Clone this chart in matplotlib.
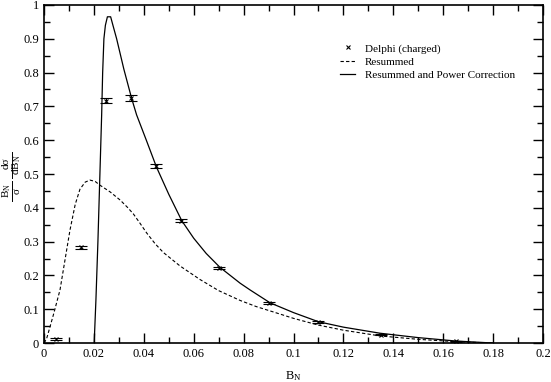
import numpy as np
import matplotlib
matplotlib.use("Agg")
import matplotlib.pyplot as plt
from matplotlib.lines import Line2D
from matplotlib.ticker import MultipleLocator

plt.rcParams['font.family'] = ['Liberation Serif', 'DejaVu Serif']
plt.rcParams['mathtext.fontset'] = 'custom'
plt.rcParams['mathtext.rm'] = 'Liberation Serif'
plt.rcParams['mathtext.it'] = 'Liberation Serif:italic'

# Delphi (charged) data
data_x = [0.005, 0.015, 0.025, 0.035, 0.045, 0.055, 0.070, 0.090, 0.110, 0.135, 0.165]
data_y = [0.012, 0.283, 0.717, 0.725, 0.525, 0.362, 0.223, 0.118, 0.062, 0.025, 0.005]
data_err = [0.003, 0.004, 0.008, 0.008, 0.006, 0.005, 0.003, 0.003, 0.002, 0.002, 0.002]

# Resummed (dashed)
res_x = [0.0, 0.001, 0.0024, 0.004, 0.0064, 0.0085, 0.0104, 0.0125, 0.0144, 0.0165, 0.0184,
         0.0205, 0.0224, 0.0265, 0.0305, 0.0335, 0.0358, 0.0385, 0.0411, 0.0445, 0.0478,
         0.0545, 0.0625, 0.07, 0.0786, 0.085, 0.0919, 0.1, 0.11, 0.12, 0.1347, 0.15,
         0.165, 0.18]
res_y = [0.0, 0.012, 0.048, 0.09, 0.157, 0.25, 0.334, 0.41, 0.455, 0.476, 0.482,
         0.478, 0.467, 0.447, 0.423, 0.401, 0.382, 0.354, 0.326, 0.294, 0.268,
         0.228, 0.188, 0.155, 0.126, 0.108, 0.092, 0.073, 0.053, 0.038, 0.021, 0.011,
         0.004, 0.0]

# Resummed and power correction (solid)
pc_x = [0.0201, 0.0208, 0.0216, 0.0224, 0.0231, 0.0235, 0.024, 0.0246, 0.0254, 0.0267,
        0.0278, 0.0291, 0.032, 0.0351, 0.0371, 0.041, 0.0451, 0.05, 0.0552, 0.06, 0.065,
        0.0705, 0.0786, 0.0826, 0.0906, 0.1, 0.11, 0.12, 0.1347, 0.15, 0.165, 0.18]
pc_y = [0.0, 0.127, 0.3, 0.5, 0.675, 0.8, 0.9, 0.94, 0.965, 0.965,
        0.935, 0.9, 0.81, 0.724, 0.675, 0.6, 0.52, 0.44, 0.362, 0.31, 0.265,
        0.224, 0.177, 0.157, 0.119, 0.09, 0.063, 0.047, 0.029, 0.016, 0.006, 0.0]

xtick_labels = ['0', '0.02', '0.04', '0.06', '0.08', '0.1', '0.12', '0.14', '0.16', '0.18', '0.2']
ytick_labels = ['0', '0.1', '0.2', '0.3', '0.4', '0.5', '0.6', '0.7', '0.8', '0.9', '1']

W, H = 551, 382
fig = plt.figure(figsize=(W / 100, H / 100), dpi=100)
ax = fig.add_axes([0.0799, 0.102, 0.9056, 0.885])

ax.errorbar(data_x, data_y, yerr=data_err, fmt='x', color='black', ms=2.5, mew=0.8,
            elinewidth=0.8, capsize=4.5, capthick=0.8)
ax.plot(res_x, res_y, '--', color='black', lw=0.8, dashes=(3, 2))
ax.plot(pc_x, pc_y, '-', color='black', lw=0.9)

ax.set_xlim(0, 0.2)
ax.set_ylim(0, 1)
ax.set_xticks(np.arange(0, 0.2001, 0.02))
ax.set_xticklabels(xtick_labels)
ax.set_yticks(np.arange(0, 1.0001, 0.1))
ax.set_yticklabels(ytick_labels)
ax.xaxis.set_minor_locator(MultipleLocator(0.01))
ax.yaxis.set_minor_locator(MultipleLocator(0.05))
ax.tick_params(which='both', direction='in', top=True, right=True, labelsize=9, width=1)
ax.tick_params(which='major', length=7)
ax.tick_params(which='minor', length=4)
for s in ax.spines.values():
    s.set_linewidth(1.2)

ax.set_xlabel(r'B$_\mathrm{N}$', fontsize=9, labelpad=7)

# y label: (B_N / sigma) (d sigma / dB_N), built as two stacked fractions
def ptxt(x, y, s):
    fig.text(x / W, 1 - y / H, s, rotation=90, ha='center', va='center', fontsize=8)

def pbar(x, y0, y1):
    fig.add_artist(Line2D([x / W, x / W], [1 - y0 / H, 1 - y1 / H],
                          transform=fig.transFigure, color='black', lw=0.7))

ptxt(6.5, 191, r'B$_\mathrm{N}$')
ptxt(17, 191, 'σ')
pbar(12, 181, 201)
ptxt(6.5, 163, 'dσ')
ptxt(17, 165, r'dB$_\mathrm{N}$')
pbar(12, 152, 178)

handles = [Line2D([], [], color='black', marker='x', ls='none', ms=2.5, mew=0.8),
           Line2D([], [], color='black', ls='--', lw=0.8, dashes=(3, 2)),
           Line2D([], [], color='black', ls='-', lw=0.9)]
labels = ['Delphi (charged)', 'Resummed', 'Resummed and Power Correction']
ax.legend(handles, labels, loc='upper left', bbox_to_anchor=(0.593, 0.886), frameon=False,
          fontsize=8, handlelength=1.4, handletextpad=0.85, labelspacing=0.3, borderpad=0,
          borderaxespad=0)

fig.savefig('out.png', dpi=100)
